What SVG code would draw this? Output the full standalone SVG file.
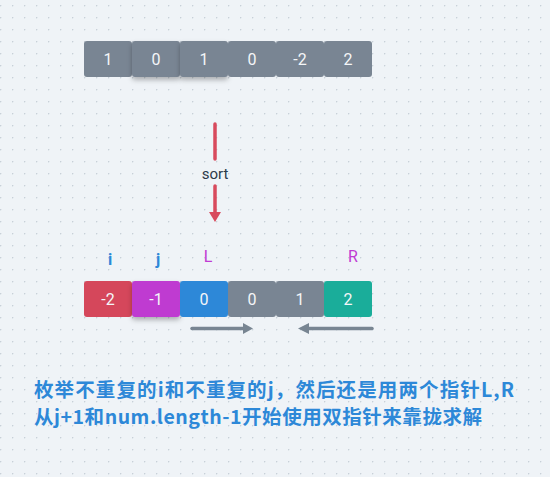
<svg xmlns="http://www.w3.org/2000/svg" width="550" height="477" viewBox="0 0 550 477">
<defs>
<pattern id="grid" width="12" height="12" patternUnits="userSpaceOnUse" x="0" y="5">
<circle cx="0.5" cy="0.5" r="0.9" fill="#c8d0d8"/>
</pattern>
<filter id="sh" x="-20%" y="-20%" width="140%" height="160%">
<feDropShadow dx="0" dy="3" stdDeviation="2.5" flood-color="#000" flood-opacity="0.28"/>
</filter>
</defs>
<style>
.num{font-family:Roboto,"Open Sans","DejaVu Sans",sans-serif;font-size:16px;fill:#f4f6f8;text-anchor:middle;}
.g{fill:#798593;}
.lbl{font-family:Roboto,"Open Sans",sans-serif;font-size:16px;text-anchor:middle;}
.cn{font-family:"Noto Sans CJK SC","Noto Sans",sans-serif;font-size:19.5px;font-weight:bold;fill:#2d88d8;}
</style>
<rect width="550" height="477" fill="#eff3f7"/>
<rect width="550" height="477" fill="url(#grid)"/>

<g id="top-row">
<g id="t0"><rect class="g" x="84" y="41" width="48" height="36" rx="3"/><text class="num" x="108" y="65">1</text></g>
<g id="t1"><rect class="g" x="132" y="41" width="48" height="36" rx="3" filter="url(#sh)"/><text class="num" x="156" y="65">0</text></g>
<g id="t2"><rect class="g" x="180" y="41" width="48" height="36" rx="3" filter="url(#sh)"/><text class="num" x="204" y="65">1</text></g>
<g id="t3"><rect class="g" x="228" y="41" width="48" height="36" rx="3"/><text class="num" x="252" y="65">0</text></g>
<g id="t4"><rect class="g" x="276" y="41" width="48" height="36" rx="3"/><text class="num" x="300" y="65">-2</text></g>
<g id="t5"><rect class="g" x="324" y="41" width="48" height="36" rx="3"/><text class="num" x="348" y="65">2</text></g>
</g>

<g id="sort">
<line x1="215" y1="124" x2="215" y2="159" stroke="#d84a5d" stroke-width="3.5" stroke-linecap="round"/>
<text x="215" y="179" font-family="Roboto,'Open Sans',sans-serif" font-size="15" fill="#2c3a4a" text-anchor="middle">sort</text>
<line x1="215" y1="186" x2="215" y2="212" stroke="#d84a5d" stroke-width="3.5" stroke-linecap="round"/>
<path d="M209,212 L221,212 L215,222 z" fill="#d84a5d"/>
</g>

<g id="labels">
<text class="lbl" x="110" y="265" fill="#2d88d8" font-weight="bold" font-size="18">i</text>
<text class="lbl" x="158" y="265" fill="#2d88d8" font-weight="bold" font-size="18">j</text>
<text class="lbl" x="208" y="262" fill="#c03bd3" font-size="14">L</text>
<text class="lbl" x="353" y="262" fill="#c03bd3" font-size="14">R</text>
</g>

<g id="bottom-row">
<g id="b0"><rect x="84" y="281" width="48" height="36" rx="3" fill="#d5475b"/><text class="num" x="108" y="305">-2</text></g>
<g id="b1"><rect x="132" y="281" width="48" height="36" rx="3" fill="#bf3bd1" filter="url(#sh)"/><text class="num" x="156" y="305">-1</text></g>
<g id="b2"><rect x="180" y="281" width="48" height="36" rx="3" fill="#2d88d8"/><text class="num" x="204" y="305">0</text></g>
<g id="b3"><rect class="g" x="228" y="281" width="48" height="36" rx="3"/><text class="num" x="252" y="305">0</text></g>
<g id="b4"><rect class="g" x="276" y="281" width="48" height="36" rx="3"/><text class="num" x="300" y="305">1</text></g>
<g id="b5"><rect x="324" y="281" width="48" height="36" rx="3" fill="#1aad9a"/><text class="num" x="348" y="305">2</text></g>
</g>

<g id="connectors">
<line x1="192" y1="328.5" x2="244" y2="328.5" stroke="#788592" stroke-width="3.5" stroke-linecap="round"/>
<path d="M243,323 L253,328.5 L243,334 z" fill="#788592"/>
<line x1="372" y1="328.5" x2="308" y2="328.5" stroke="#788592" stroke-width="3.5" stroke-linecap="round"/>
<path d="M309,323 L298,328.5 L309,334 z" fill="#788592"/>
</g>

<g id="caption">
<text class="cn" x="34" y="397" textLength="480" lengthAdjust="spacing">枚举不重复的i和不重复的j，然后还是用两个指针L,R</text>
<text class="cn" x="34" y="424" textLength="448" lengthAdjust="spacing">从j+1和num.length-1开始使用双指针来靠拢求解</text>
</g>
</svg>
